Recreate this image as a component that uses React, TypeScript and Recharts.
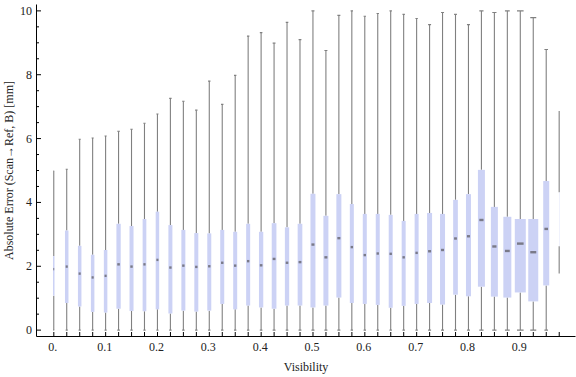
import React from 'react';
import { ComposedChart, Bar, XAxis, YAxis } from 'recharts';

// ---- data ----
const visibility = [
  0, 0.025, 0.05, 0.075, 0.1, 0.125, 0.15, 0.175, 0.2, 0.225,
  0.25, 0.275, 0.3, 0.325, 0.35, 0.375, 0.4, 0.425, 0.45, 0.475,
  0.5, 0.525, 0.55, 0.575, 0.6, 0.625, 0.65, 0.675, 0.7, 0.725,
  0.75, 0.775, 0.8, 0.825, 0.85, 0.875, 0.9, 0.925, 0.95, 0.975,
];

const whiskerMin = [
  0, 0, 0, 0, 0, 0, 0, 0, 0, 0,
  0, 0, 0, 0, 0, 0, 0, 0, 0, 0,
  0, 0, 0, 0, 0, 0, 0, 0, 0, 0,
  0, 0, 0, 0, 0, 0, 0, 0, 0, 1.77,
];

const lowerQuartile = [
  1.08, 0.85, 0.74, 0.57, 0.55, 0.67, 0.6, 0.59, 0.65, 0.52,
  0.61, 0.58, 0.61, 0.82, 0.65, 0.77, 0.71, 0.67, 0.77, 0.77,
  0.71, 0.77, 1.02, 0.85, 0.82, 0.79, 0.7, 0.76, 0.82, 0.85,
  0.8, 1.11, 1.06, 1.36, 1.05, 1.02, 1.18, 0.9, 1.4, 2.63,
];

const medianError = [
  1.91, 1.99, 1.77, 1.65, 1.7, 2.06, 1.99, 2.06, 2.2, 1.96,
  2.02, 1.98, 2.0, 2.11, 2.02, 2.16, 2.03, 2.23, 2.11, 2.13,
  2.68, 2.28, 2.88, 2.6, 2.35, 2.4, 2.39, 2.28, 2.42, 2.47,
  2.51, 2.87, 2.94, 3.45, 2.62, 2.48, 2.71, 2.44, 3.17, 3.55,
];

const upperQuartile = [
  2.32, 3.12, 2.64, 2.36, 2.51, 3.33, 3.26, 3.48, 3.71, 3.29,
  3.14, 3.04, 3.03, 3.14, 3.08, 3.33, 3.08, 3.35, 3.22, 3.33,
  4.27, 3.58, 4.26, 3.95, 3.64, 3.64, 3.61, 3.42, 3.64, 3.67,
  3.64, 4.08, 4.26, 5.02, 3.86, 3.55, 3.48, 3.48, 4.67, 4.32,
];

const whiskerMax = [
  4.98, 5.04, 5.98, 6.02, 6.08, 6.23, 6.29, 6.48, 6.77, 7.26,
  7.17, 6.89, 7.8, 7.07, 7.98, 9.21, 9.32, 8.99, 9.64, 9.1,
  10.0, 8.76, 9.86, 10.0, 9.83, 9.92, 10.0, 9.89, 9.76, 9.57,
  9.95, 9.89, 9.57, 10.0, 9.95, 10.0, 10.0, 9.79, 8.79, 6.86,
];

// relative weight of each bin (drives the box width)
const binShare = [
  0.15, 0.35, 0.35, 0.35, 0.35, 0.43, 0.4, 0.37, 0.35, 0.4,
  0.4, 0.4, 0.4, 0.4, 0.4, 0.4, 0.43, 0.47, 0.43, 0.47,
  0.5, 0.5, 0.5, 0.4, 0.4, 0.4, 0.4, 0.4, 0.4, 0.5,
  0.5, 0.47, 0.5, 0.7, 0.7, 0.8, 1.1, 1.0, 0.6, 0.03,
];

const xTickLabels = ['0.', '0.1', '0.2', '0.3', '0.4', '0.5', '0.6', '0.7', '0.8', '0.9'];
const yTickLabels = ['0', '2', '4', '6', '8', '10'];
const yTicks = [0, 0.5, 1, 1.5, 2, 2.5, 3, 3.5, 4, 4.5, 5, 5.5, 6, 6.5, 7, 7.5, 8, 8.5, 9, 9.5, 10];
const topTicks = [-0.025, ...visibility];

const xTitle = 'Visibility';
const yTitle = 'Absolute Error (Scan\u2192Ref, B) [mm]';

const data = visibility.map((v, i) => ({
  v,
  min: whiskerMin[i],
  q1: lowerQuartile[i],
  med: medianError[i],
  q3: upperQuartile[i],
  max: whiskerMax[i],
  share: binShare[i],
}));

// ---- styling ----
const FONT = '"Liberation Serif", "Times New Roman", serif';
const TEXT = '#222';
const BOX_FILL = '#ccd2f5';
const WHISKER = '#808080';
const BOX_SCALE = 10;
const X_DOMAIN: [number, number] = [-0.0334, 1.0064];
const Y_DOMAIN: [number, number] = [-0.2, 10.2];

const isMult = (v: number, step: number) => Math.abs(v / step - Math.round(v / step)) < 1e-6;

const BoxWhisker = (props: any) => {
  const { x, y, width, height, payload } = props;
  if (!payload || !isFinite(x) || !isFinite(y)) return null;
  const cx = x + width / 2;
  const span = payload.max - payload.min;
  const py = (val: number) => y + (height * (payload.max - val)) / span;
  const w = payload.share * BOX_SCALE;
  const cap = w * 0.6;
  const yMax = py(payload.max);
  const yQ3 = py(payload.q3);
  const yMed = py(payload.med);
  const yQ1 = py(payload.q1);
  const yMin = py(payload.min);
  const mw = Math.max(w * 0.6, 0);
  return (
    <g>
      <line x1={cx} x2={cx} y1={yMax} y2={yQ3} stroke={WHISKER} strokeWidth={1.1} />
      <line x1={cx} x2={cx} y1={yQ1} y2={yMin} stroke={WHISKER} strokeWidth={1.1} />
      {cap > 0.8 && (
        <line x1={cx - cap / 2} x2={cx + cap / 2} y1={yMax} y2={yMax} stroke={WHISKER} strokeWidth={1.1} />
      )}
      {cap > 0.8 && (
        <line x1={cx - cap / 2} x2={cx + cap / 2} y1={yMin} y2={yMin} stroke={WHISKER} strokeWidth={1.1} />
      )}
      <rect x={cx - w / 2} y={yQ3} width={w} height={yQ1 - yQ3} fill={BOX_FILL} />
      {mw > 0.5 && (
        <rect x={cx - mw / 2} y={yMed - 1.2} width={mw} height={2.4} fill="#7a7a88" />
      )}
    </g>
  );
};

const LeftTick = (props: any) => {
  const { x, y, payload } = props;
  const v = payload.value;
  const major = isMult(v, 2);
  return (
    <g>
      <line x1={x} x2={x + (major ? 4.5 : 2.5)} y1={y} y2={y} stroke="#000" strokeWidth={1} />
      {major && (
        <text x={x - 4.5} y={y + 4} textAnchor="end" fontFamily={FONT} fontSize={12} fill={TEXT}>
          {yTickLabels[Math.round(v / 2)]}
        </text>
      )}
    </g>
  );
};

const RightTick = (props: any) => {
  const { x, y, payload } = props;
  const major = isMult(payload.value, 2);
  return <line x1={x} x2={x - (major ? 4.5 : 2.5)} y1={y} y2={y} stroke="#000" strokeWidth={1} />;
};

const BottomTick = (props: any) => {
  const { x, y, payload } = props;
  const v = payload.value;
  const labelled = isMult(v, 0.1);
  return (
    <g>
      <line x1={x} x2={x} y1={y} y2={y - 4.5} stroke="#000" strokeWidth={1} />
      {labelled && (
        <text x={x - 1} y={y + 14.5} textAnchor="middle" fontFamily={FONT} fontSize={12} fill={TEXT}>
          {xTickLabels[Math.round(v * 10)]}
        </text>
      )}
    </g>
  );
};

const TopTick = (props: any) => {
  const { x, y } = props;
  return <line x1={x} x2={x} y1={y} y2={y + 4.5} stroke="#000" strokeWidth={1} />;
};

const YTitle = (props: any) => {
  const vb = props.viewBox || { x: 0, y: 0, width: 0, height: 0 };
  const cx = vb.x + 12.5;
  const cy = vb.y + vb.height / 2;
  return (
    <text
      transform={`translate(${cx},${cy}) rotate(-90)`}
      textAnchor="middle"
      fontFamily={FONT}
      fontSize={12}
      fill={TEXT}
    >
      {yTitle}
    </text>
  );
};

const XTitle = (props: any) => {
  const vb = props.viewBox || { x: 0, y: 0, width: 0, height: 0 };
  return (
    <text x={vb.x + vb.width / 2} y={vb.y + 34} textAnchor="middle" fontFamily={FONT} fontSize={12} fill={TEXT}>
      {xTitle}
    </text>
  );
};

export default function App() {
  return (
    <div style={{ position: 'absolute', left: 0, top: 0, width: 576, height: 377, background: '#fff' }}>
      <ComposedChart
        width={576}
        height={377}
        data={data}
        margin={{ top: 4.5, right: 0.5, bottom: 0, left: 0 }}
      >
        <XAxis
          dataKey="v"
          type="number"
          domain={X_DOMAIN}
          allowDataOverflow
          ticks={visibility}
          interval={0}
          tickSize={0}
          tickMargin={0}
          tickLine={false}
          axisLine={{ stroke: '#000' }}
          tick={<BottomTick />}
          height={40.5}
          label={<XTitle />}
        />
        <XAxis
          xAxisId="top"
          orientation="top"
          dataKey="v"
          type="number"
          domain={X_DOMAIN}
          allowDataOverflow
          ticks={topTicks}
          interval={0}
          tickSize={0}
          tickMargin={0}
          tickLine={false}
          axisLine={{ stroke: '#000' }}
          tick={<TopTick />}
          height={0}
        />
        <YAxis
          type="number"
          domain={Y_DOMAIN}
          allowDataOverflow
          ticks={yTicks}
          interval={0}
          tickSize={0}
          tickMargin={0}
          tickLine={false}
          axisLine={{ stroke: '#000' }}
          tick={<LeftTick />}
          width={36.5}
          label={<YTitle />}
        />
        <YAxis
          yAxisId="right"
          orientation="right"
          type="number"
          domain={Y_DOMAIN}
          allowDataOverflow
          ticks={yTicks}
          interval={0}
          tickSize={0}
          tickMargin={0}
          tickLine={false}
          axisLine={{ stroke: '#000' }}
          tick={<RightTick />}
          width={0}
        />
        <Bar
          dataKey={(d: any) => [d.min, d.max]}
          barSize={8.86}
          shape={<BoxWhisker />}
          isAnimationActive={false}
        />
      </ComposedChart>
    </div>
  );
}
